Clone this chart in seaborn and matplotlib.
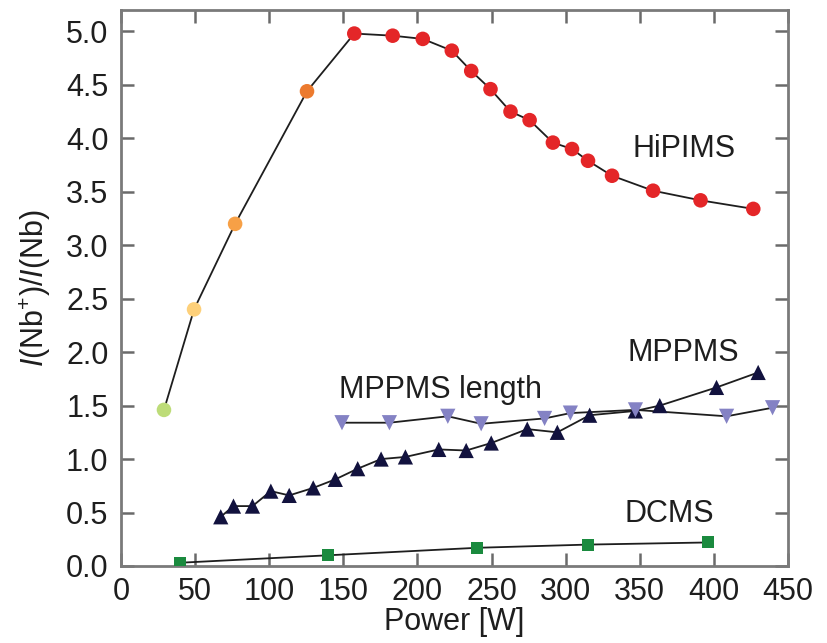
import matplotlib
matplotlib.use("Agg")
import matplotlib.pyplot as plt
import seaborn as sns
import pandas as pd
import numpy as np

# ---------------- data ----------------
hipims_x = [29, 49.3, 77, 125.5, 157.4, 183.3, 203.6, 223.2, 236.3, 249.3, 262.8,
            275.7, 291.4, 304.3, 315.1, 331.3, 359, 391, 426.6]
hipims_y = [1.46, 2.40, 3.20, 4.44, 4.98, 4.96, 4.93, 4.82, 4.63, 4.46, 4.25,
            4.17, 3.96, 3.90, 3.79, 3.65, 3.51, 3.42, 3.34]
hipims_colors = ["#bddc78", "#fdd07a", "#f7a046", "#ec7a2e"] + ["#e42628"] * 15

mppms_x = [67.3, 75.9, 88.7, 101.1, 113.5, 129.7, 144.6, 159.7, 175.5, 191.9,
           214.4, 232.9, 249.8, 274.1, 294.4, 316.2, 347, 363.5, 401.8, 429.9]
mppms_y = [0.46, 0.56, 0.56, 0.70, 0.66, 0.73, 0.81, 0.91, 1.00, 1.02,
           1.09, 1.08, 1.15, 1.28, 1.25, 1.41, 1.45, 1.50, 1.67, 1.81]

length_x = [149.1, 181.1, 220.5, 243, 285.8, 303.2, 347.1, 408.6, 439.6]
length_y = [1.34, 1.34, 1.40, 1.33, 1.38, 1.43, 1.46, 1.40, 1.48]

dcms_x = [39.6, 139.9, 240.3, 315.1, 396.2]
dcms_y = [0.03, 0.10, 0.17, 0.20, 0.22]

labels = ["HiPIMS", "MPPMS", "MPPMS length", "DCMS"]
label_x = [345, 342, 147, 340]
label_y = [3.90, 1.99, 1.65, 0.49]

x_ticks = list(range(0, 451, 50))
y_ticks = [0.0, 0.5, 1.0, 1.5, 2.0, 2.5, 3.0, 3.5, 4.0, 4.5, 5.0]

# ---------------- style ----------------
sns.set_style("white")
plt.rcParams["font.family"] = ["Liberation Sans", "DejaVu Sans"]
plt.rcParams["mathtext.fontset"] = "custom"
plt.rcParams["mathtext.rm"] = "Liberation Sans"
plt.rcParams["mathtext.it"] = "Liberation Sans:italic"

FS = 22
fig = plt.figure(figsize=(8.27, 6.43), dpi=100)
ax = fig.add_axes([0.1463, 0.1198, 0.8065, 0.8646])

line_kw = dict(color="#1e1e1e", linewidth=1.3, sort=False, estimator=None)

# HiPIMS
hip = pd.DataFrame({"x": hipims_x, "y": hipims_y, "i": range(len(hipims_x))})
sns.lineplot(data=hip, x="x", y="y", ax=ax, **line_kw)
sns.scatterplot(data=hip, x="x", y="y", hue="i", palette=hipims_colors,
                s=110, edgecolor="none", legend=False, ax=ax, zorder=3)

# DCMS
dc = pd.DataFrame({"x": dcms_x, "y": dcms_y})
sns.lineplot(data=dc, x="x", y="y", ax=ax, **line_kw)
sns.scatterplot(data=dc, x="x", y="y", marker="s", color="#1a8a3e",
                s=75, edgecolor="none", ax=ax, zorder=3)

# MPPMS
mp = pd.DataFrame({"x": mppms_x, "y": mppms_y})
sns.lineplot(data=mp, x="x", y="y", ax=ax, **line_kw)
sns.scatterplot(data=mp, x="x", y="y", marker="^", color="#12123e",
                s=120, edgecolor="none", ax=ax, zorder=3)

# MPPMS length
ln = pd.DataFrame({"x": length_x, "y": length_y})
sns.lineplot(data=ln, x="x", y="y", ax=ax, **line_kw)
sns.scatterplot(data=ln, x="x", y="y", marker="v", color="#8482c4",
                s=120, edgecolor="none", ax=ax, zorder=4)

for t, tx, ty in zip(labels, label_x, label_y):
    ax.text(tx, ty, t, fontsize=FS, color="#1e1e1e", ha="left", va="center")

ax.set_xlim(0, 450)
ax.set_ylim(0, 5.2)
ax.set_xticks(x_ticks)
ax.set_yticks(y_ticks)
ax.set_yticklabels([f"{v:.1f}" for v in y_ticks])
ax.set_xlabel("Power [W]", fontsize=FS, labelpad=0, color="#1e1e1e")
ax.set_ylabel(r"$I$(Nb$^{+}$)/$I$(Nb)", fontsize=FS, labelpad=9, color="#1e1e1e")

for sp in ax.spines.values():
    sp.set_visible(True)
    sp.set_color("#7a7a7a")
    sp.set_linewidth(2)
ax.tick_params(axis="both", which="both", direction="in", length=9.5, width=1.8,
               color="#6a6a6a", labelsize=FS, labelcolor="#1e1e1e",
               top=True, right=True, bottom=True, left=True)
ax.tick_params(axis="x", pad=8)
ax.tick_params(axis="y", pad=9)

fig.savefig("out.png", dpi=100)
